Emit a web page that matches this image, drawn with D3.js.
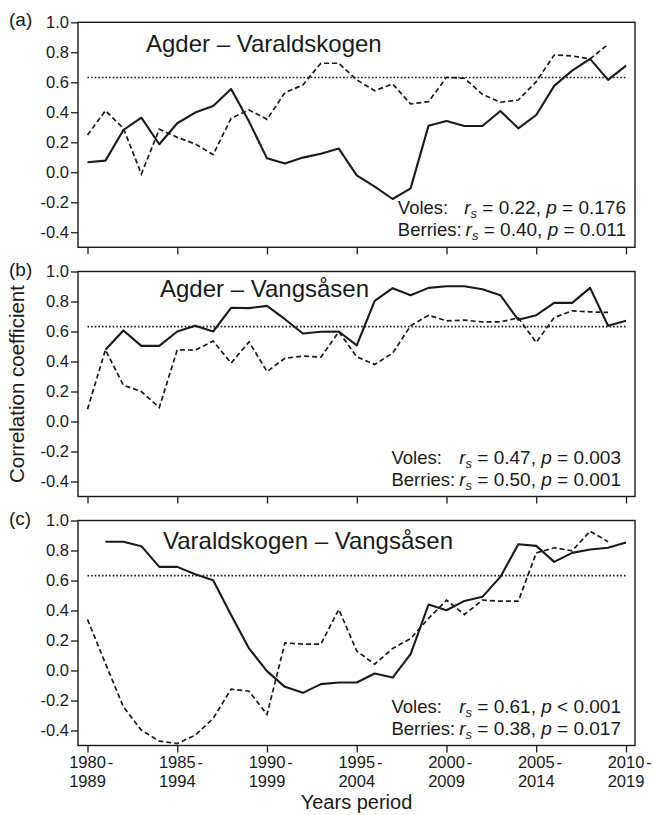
<!DOCTYPE html>
<html>
<head>
<meta charset="utf-8">
<script src="https://cdn.jsdelivr.net/npm/d3@7"></script>
<style>
    body { margin: 0; background: #fff; }
    svg text { font-family: "Liberation Sans", Arial, Helvetica, sans-serif; fill: #1a1a1a; }
</style>
</head>
<body>
<div id="chart"></div>
<script>

// Start year of each 10-year window
var periods = [1980, 1981, 1982, 1983, 1984, 1985, 1986, 1987, 1988, 1989,
    1990, 1991, 1992, 1993, 1994, 1995, 1996, 1997, 1998, 1999,
    2000, 2001, 2002, 2003, 2004, 2005, 2006, 2007, 2008, 2009, 2010];

var tickYears = [1980, 1985, 1990, 1995, 2000, 2005, 2010];
var tickLine1 = ["1980", "1985", "1990", "1995", "2000", "2005", "2010"];
var tickLine2 = ["1989", "1994", "1999", "2004", "2009", "2014", "2019"];
var yTicks = [-0.4, -0.2, 0, 0.2, 0.4, 0.6, 0.8, 1.0];
var threshold = 0.632;

// (a) Agder - Varaldskogen
var volesA = [0.067, 0.078, 0.282, 0.364, 0.187, 0.327, 0.398, 0.442, 0.556, 0.338,
    0.093, 0.058, 0.098, 0.124, 0.158, -0.02, -0.096, -0.178, -0.107, 0.311,
    0.342, 0.309, 0.309, 0.409, 0.293, 0.382, 0.576, 0.678, 0.756, 0.616, 0.711];
var berriesA = [0.249, 0.411, 0.293, -0.011, 0.287, 0.233, 0.189, 0.118, 0.36, 0.416,
    0.353, 0.531, 0.582, 0.727, 0.727, 0.616, 0.544, 0.589, 0.456, 0.471,
    0.633, 0.627, 0.52, 0.467, 0.482, 0.604, 0.782, 0.776, 0.756, 0.853];

// (b) Agder - Vangsåsen
var volesB = [null, 0.478, 0.607, 0.504, 0.504, 0.60, 0.638, 0.60, 0.758, 0.756,
    0.771, 0.682, 0.587, 0.598, 0.60, 0.508, 0.804, 0.889, 0.842, 0.891,
    0.902, 0.902, 0.882, 0.842, 0.678, 0.709, 0.791, 0.791, 0.891, 0.638, 0.671];
var berriesB = [0.082, 0.478, 0.242, 0.20, 0.093, 0.478, 0.476, 0.536, 0.389, 0.531,
    0.333, 0.422, 0.436, 0.429, 0.598, 0.431, 0.38, 0.456, 0.638, 0.709,
    0.671, 0.676, 0.664, 0.664, 0.691, 0.527, 0.693, 0.738, 0.731, 0.727];

// (c) Varaldskogen - Vangsåsen
var volesC = [null, 0.858, 0.858, 0.829, 0.691, 0.691, 0.642, 0.602, 0.37, 0.147,
    -0.004, -0.109, -0.149, -0.091, -0.08, -0.08, -0.02, -0.047, 0.109, 0.44,
    0.402, 0.464, 0.491, 0.624, 0.842, 0.831, 0.724, 0.784, 0.807, 0.818, 0.853];
var berriesC = [0.34, 0.047, -0.242, -0.398, -0.471, -0.487, -0.431, -0.32, -0.124, -0.138,
    -0.293, 0.184, 0.176, 0.176, 0.407, 0.13, 0.042, 0.147, 0.213, 0.347,
    0.469, 0.373, 0.469, 0.462, 0.462, 0.784, 0.818, 0.798, 0.929, 0.858];

var titles = ["Agder \u2013 Varaldskogen", "Agder \u2013 Vangsåsen", "Varaldskogen \u2013 Vangsåsen"];
var panelTags = ["(a)", "(b)", "(c)"];
var volesRs = ["0.22", "0.47", "0.61"];
var volesP = ["= 0.176", "= 0.003", "< 0.001"];
var berriesRs = ["0.40", "0.50", "0.38"];
var berriesP = ["= 0.011", "= 0.001", "= 0.017"];

var voles = [volesA, volesB, volesC];
var berries = [berriesA, berriesB, berriesC];

// page layout
var W = 654, H = 815;
var boxLeft = 78, boxRight = 635;
var panelTops = [22.3, 271.5, 520.5];
var panelH = 225;
var titlePos = [[146, 30], [160, 25.5], [163, 28.5]];
var statRight = [626, 621, 621];

var svg = d3.select("#chart").append("svg")
    .attr("width", W)
    .attr("height", H);

var x = d3.scaleLinear()
    .domain([1980, 2010])
    .range([87.5, 626]);

/*
 * CorrPanel - one of the three stacked panels
 */
CorrPanel = function(_svg, _index) {
    this.svg = _svg;
    this.index = _index;
    this.initVis();
};

CorrPanel.prototype.initVis = function() {
    var vis = this;
    var i = vis.index;

    vis.top = panelTops[i];
    vis.bottom = vis.top + panelH;

    vis.g = vis.svg.append("g");

    vis.y = d3.scaleLinear()
        .domain([-0.5, 1.0])
        .range([vis.bottom, vis.top]);

    // y axis
    vis.yAxis = d3.axisLeft(vis.y)
        .tickValues(yTicks)
        .tickSize(7)
        .tickPadding(2)
        .tickFormat(function(d) { return d.toFixed(1); });
    vis.yAxisGroup = vis.g.append("g")
        .attr("transform", "translate(" + boxLeft + ",0)")
        .call(vis.yAxis);
    vis.yAxisGroup.select(".domain").remove();
    vis.yAxisGroup.selectAll("line").attr("stroke", "#1a1a1a").attr("stroke-width", 1.3);
    vis.yAxisGroup.selectAll("text")
        .style("font-size", "16.5px")
        .style("font-family", "'Liberation Sans', Arial, sans-serif")
        .attr("fill", "#1a1a1a");

    // x axis (ticks only, labels on the last panel)
    vis.xAxis = d3.axisBottom(x)
        .tickValues(tickYears)
        .tickSize(7)
        .tickFormat("");
    vis.xAxisGroup = vis.g.append("g")
        .attr("transform", "translate(0," + vis.bottom + ")")
        .call(vis.xAxis);
    vis.xAxisGroup.select(".domain").remove();
    vis.xAxisGroup.selectAll("line").attr("stroke", "#1a1a1a").attr("stroke-width", 1.3);

    // box
    vis.g.append("rect")
        .attr("x", boxLeft)
        .attr("y", vis.top)
        .attr("width", boxRight - boxLeft)
        .attr("height", panelH)
        .attr("fill", "none")
        .attr("stroke", "#1a1a1a")
        .attr("stroke-width", 1.4);

    // significance line
    vis.g.append("line")
        .attr("x1", x(1980))
        .attr("x2", x(2010))
        .attr("y1", vis.y(threshold))
        .attr("y2", vis.y(threshold))
        .attr("stroke", "#1a1a1a")
        .attr("stroke-width", 1.7)
        .attr("stroke-dasharray", "1.6,2");

    vis.line = d3.line()
        .defined(function(d) { return d !== null; })
        .x(function(d, j) { return x(periods[j]); })
        .y(function(d) { return vis.y(d); });

    // berries (dashed)
    vis.g.append("path")
        .datum(berries[i])
        .attr("d", vis.line)
        .attr("fill", "none")
        .attr("stroke", "#1a1a1a")
        .attr("stroke-width", 1.7)
        .attr("stroke-dasharray", "5,3");

    // voles (solid)
    vis.g.append("path")
        .datum(voles[i])
        .attr("d", vis.line)
        .attr("fill", "none")
        .attr("stroke", "#1a1a1a")
        .attr("stroke-width", 2.1)
        .attr("stroke-linejoin", "round");

    // title + tag
    vis.g.append("text")
        .attr("x", titlePos[i][0])
        .attr("y", vis.top + titlePos[i][1])
        .style("font-size", "24px")
        .text(titles[i]);

    vis.g.append("text")
        .attr("x", 9)
        .attr("y", vis.top + 4)
        .style("font-size", "19px")
        .text(panelTags[i]);

    // stats: berries line first so the voles label can line up with it
    var bStart = vis.addStat("Berries:", berriesRs[i], berriesP[i], vis.top + 214, null);
    vis.addStat("Voles:", volesRs[i], volesP[i], vis.top + 192, bStart);
};

CorrPanel.prototype.addStat = function(label, rs, p, yPos, labelX) {
    var vis = this;
    var right = statRight[vis.index];

    var t = vis.g.append("text")
        .attr("x", right)
        .attr("y", yPos)
        .attr("text-anchor", "end")
        .style("font-size", "19px");
    t.append("tspan").style("font-style", "italic").text("r");
    t.append("tspan").style("font-style", "italic").style("font-size", "13px").attr("dy", 4).text("s");
    t.append("tspan").attr("dy", -4).text(" = " + rs + ", ");
    t.append("tspan").style("font-style", "italic").text("p");
    t.append("tspan").text(" " + p);

    var statStart = t.node().getBBox().x;

    var l = vis.g.append("text")
        .attr("y", yPos)
        .style("font-size", "18.5px")
        .text(label);
    if (labelX === null) {
        l.attr("x", statStart - 4).attr("text-anchor", "end");
        return l.node().getBBox().x;
    }
    l.attr("x", labelX);
    return labelX;
};

var panels = [];
for (var k = 0; k < 3; k++) {
    panels.push(new CorrPanel(svg, k));
}

// x tick labels under the last panel
var lastBottom = panelTops[2] + panelH;
var lab = svg.append("g");
tickYears.forEach(function(yr, j) {
    var t1 = lab.append("text")
        .attr("x", x(yr))
        .attr("y", lastBottom + 22)
        .attr("text-anchor", "middle")
        .style("font-size", "16.5px")
        .text(tickLine1[j]);
    var half = t1.node().getComputedTextLength() / 2;
    lab.append("text")
        .attr("x", x(yr) + half + 2)
        .attr("y", lastBottom + 22)
        .style("font-size", "16.5px")
        .text("-");
    lab.append("text")
        .attr("x", x(yr))
        .attr("y", lastBottom + 41)
        .attr("text-anchor", "middle")
        .style("font-size", "16.5px")
        .text(tickLine2[j]);
});

svg.append("text")
    .attr("x", (boxLeft + boxRight) / 2)
    .attr("y", 809)
    .attr("text-anchor", "middle")
    .style("font-size", "20px")
    .text("Years period");

svg.append("text")
    .attr("transform", "translate(24," + (panelTops[1] + panelH / 2) + ") rotate(-90)")
    .attr("text-anchor", "middle")
    .style("font-size", "20.5px")
    .text("Correlation coefficient");

</script>
</body>
</html>
